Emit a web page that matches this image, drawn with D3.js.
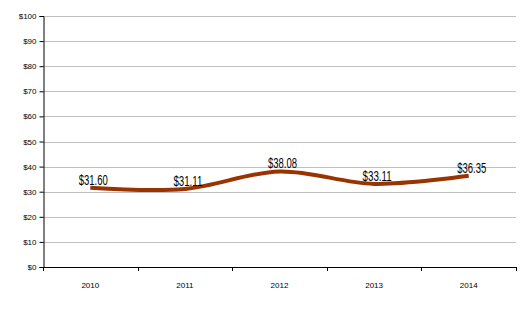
<!DOCTYPE html>
<html>
<head>
<meta charset="utf-8">
<script src="https://cdn.jsdelivr.net/npm/d3@7"></script>
<style>
  body { margin: 0; background: #fff; }
  svg { display: block; }
  .tick text { font-family: "Liberation Sans", Arial, sans-serif; }
</style>
</head>
<body>
<div id="chart"></div>
<script>
// chart data
const years = ["2010", "2011", "2012", "2013", "2014"];
const prices = [31.60, 31.11, 38.08, 33.11, 36.35];
const yTicks = [0, 10, 20, 30, 40, 50, 60, 70, 80, 90, 100];

const width = 531, height = 329;
const margin = { top: 16, right: 15, bottom: 62, left: 43 };

const svg = d3.select('#chart')
  .append('svg')
  .attr('width', width)
  .attr('height', height);

const x = d3.scaleBand()
  .domain(years)
  .range([margin.left, width - margin.right]);

const y = d3.scaleLinear()
  .domain([0, 100])
  .range([height - margin.bottom, margin.top]);

// horizontal gridlines
svg.append('g')
  .selectAll('line')
  .data(yTicks.filter(d => d > 0))
  .enter()
  .append('line')
  .attr('x1', margin.left)
  .attr('x2', width - margin.right)
  .attr('y1', d => Math.round(y(d)) + 0.5)
  .attr('y2', d => Math.round(y(d)) + 0.5)
  .attr('stroke', '#c0c0c0')
  .attr('stroke-width', 1);

// y axis
const yAxis = svg.append('g')
  .attr('transform', `translate(${margin.left + 0.5},0)`)
  .call(d3.axisLeft(y).tickValues(yTicks).tickSize(4).tickPadding(3)
    .tickFormat(d => '$' + d));
yAxis.select('.domain').attr('stroke', '#000');
yAxis.selectAll('.tick line').attr('stroke', '#000');
yAxis.selectAll('.tick text').attr('font-size', 8).attr('fill', '#000');

// x axis
const xAxis = svg.append('g')
  .attr('transform', `translate(0,${Math.round(y(0)) + 0.5})`)
  .call(d3.axisBottom(x).tickSize(0).tickPadding(15));
xAxis.select('.domain').attr('stroke', '#000').attr('d', `M${margin.left},0H${width - margin.right}`);
xAxis.selectAll('.tick text').attr('font-size', 8).attr('fill', '#000');

// category separators below axis
svg.append('g')
  .selectAll('line')
  .data(years.concat(['end']))
  .enter()
  .append('line')
  .attr('x1', (d, i) => Math.round(i < years.length ? x(d) : x.range()[1]) + 0.5)
  .attr('x2', (d, i) => Math.round(i < years.length ? x(d) : x.range()[1]) + 0.5)
  .attr('y1', Math.round(y(0)))
  .attr('y2', Math.round(y(0)) + 4)
  .attr('stroke', '#000');

const cx = d => x(d) + x.bandwidth() / 2;

// smoothed price line
const line = d3.line()
  .x((d, i) => cx(years[i]))
  .y(d => y(d))
  .curve(d3.curveCatmullRom.alpha(0.5));

svg.append('path')
  .datum(prices)
  .attr('d', line)
  .attr('fill', 'none')
  .attr('stroke', '#993300')
  .attr('stroke-width', 4);

// data labels
svg.append('g')
  .selectAll('text')
  .data(prices)
  .enter()
  .append('text')
  .attr('x', (d, i) => cx(years[i]) + 3)
  .attr('y', d => y(d) - 3)
  .attr('text-anchor', 'middle')
  .attr('font-family', '"Liberation Sans Narrow", "Liberation Sans", Arial, sans-serif')
  .attr('font-size', 14)
  .attr('textLength', 29)
  .attr('lengthAdjust', 'spacingAndGlyphs')
  .attr('fill', '#000')
  .text(d => '$' + d.toFixed(2));
</script>
</body>
</html>
